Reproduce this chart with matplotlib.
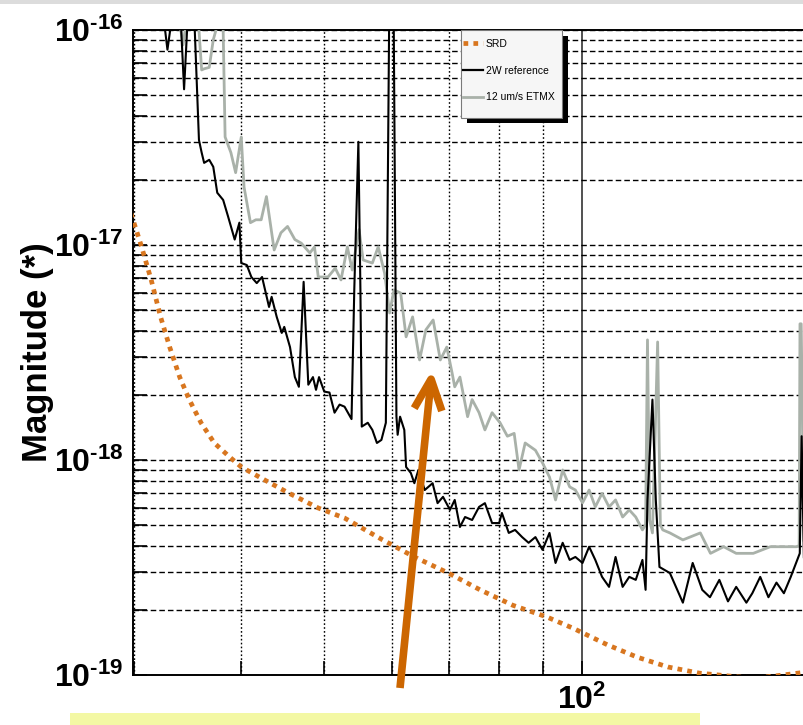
import numpy as np
import matplotlib
matplotlib.use("Agg")
import matplotlib.pyplot as plt
from matplotlib.patches import Rectangle, FancyArrowPatch
from matplotlib.lines import Line2D
from matplotlib.ticker import LogLocator, NullFormatter

plt.rcParams['font.family'] = ['Liberation Sans', 'DejaVu Sans']
plt.rcParams['mathtext.fontset'] = 'custom'
plt.rcParams['mathtext.rm'] = 'Liberation Sans:bold'
plt.rcParams['mathtext.it'] = 'Liberation Sans:bold'
plt.rcParams['mathtext.bf'] = 'Liberation Sans:bold'

# SRD design curve
srd_f = [29, 29.9, 30.6, 31.4, 32.2, 33.0, 33.9, 34.8, 35.9, 37.2, 38.8, 40.0,
         42.6, 45.5, 49.2, 52.8, 58.5, 63.7, 69.8, 76.0, 83.0, 91.0, 97.6,
         107.1, 116.0, 125.9, 137.1, 144.4, 152, 160, 168, 175, 182, 190, 200]
srd_m = [1.9e-17, 1.31e-17, 9.8e-18, 6.88e-18, 4.63e-18, 3.35e-18, 2.43e-18,
         1.90e-18, 1.49e-18, 1.20e-18, 1.03e-18, 9.28e-19, 8.07e-19, 7.0e-19,
         5.98e-19, 5.37e-19, 4.25e-19, 3.54e-19, 2.98e-19, 2.49e-19, 2.11e-19,
         1.86e-19, 1.65e-19, 1.38e-19, 1.21e-19, 1.09e-19, 1.02e-19, 1.0e-19,
         9.8e-20, 9.7e-20, 9.9e-20, 1.01e-19, 1.03e-19, 1.06e-19, 1.1e-19]

# 2W reference
ref_f = [30, 31.5, 32.5, 32.8, 33.1, 33.6, 34.0, 34.3, 34.6, 35.0, 35.3, 35.7,
         35.96, 36.2, 36.7, 37.1, 37.5, 38.1, 38.6, 39.3, 39.8, 40.0, 40.6, 41.1,
         41.7, 42.3, 43.1, 43.4, 44.0, 44.6, 44.9, 45.6, 46.2, 46.7, 47.3, 47.9,
         48.5, 48.9, 49.3, 50.0, 50.7, 51.4, 52.1, 52.8, 53.8, 54.2, 54.8, 55.1,
         55.3, 56.2, 56.9, 57.6, 58.3, 59.0, 59.6, 60.2, 60.7, 60.9, 61.3, 62.0,
         62.3, 63.1, 63.7, 64.4, 65.5, 66.9, 67.8, 68.8, 70.1, 71.0, 72.0, 73.0,
         74.4, 75.8, 77.0, 78.5, 80.0, 80.6, 82.1, 83.5, 85.1, 86.6, 88.2, 89.9,
         91.6, 93.1, 94.9, 96.7, 98.2, 100.1, 101.9, 103.6, 105.5, 107.5, 109.4,
         111.5, 113.5, 115.5, 117.6, 118.6, 119.2, 120.8, 121.9, 123.1, 126.6,
         131.1, 134.6, 138.1, 141.0, 144.6, 148.0, 151.3, 155.5, 158.0, 161.4,
         165.0, 168.6, 172.0, 175.2, 179.5, 180.4, 181.5, 190, 200]
ref_m = [5e-16, 2.5e-16, 1.1e-16, 8.1e-17, 1.05e-16, 1.4e-16, 1.1e-16, 5.3e-17,
         1.05e-16, 1.5e-16, 1.0e-16, 3.08e-17, 2.69e-17, 2.41e-17, 2.49e-17,
         2.31e-17, 1.75e-17, 1.62e-17, 1.36e-17, 1.06e-17, 1.27e-17, 8.24e-18,
         8.07e-18, 7.1e-18, 6.65e-18, 7.1e-18, 5.15e-18, 5.74e-18, 4.63e-18,
         3.9e-18, 4.16e-18, 3.35e-18, 2.43e-18, 2.19e-18, 6.74e-18, 2.24e-18,
         2.43e-18, 2.12e-18, 2.43e-18, 2.08e-18, 2.06e-18, 1.66e-18, 1.81e-18,
         1.77e-18, 1.55e-18, 6.2e-18, 3.02e-17, 6.2e-18, 1.43e-18, 1.49e-18,
         1.38e-18, 1.20e-18, 1.24e-18, 1.49e-18, 2e-16, 2e-16, 1.6e-18, 1.31e-18,
         1.59e-18, 1.38e-18, 9.28e-19, 8.7e-19, 7.8e-19, 8.99e-19, 7.25e-19,
         7.8e-19, 6.3e-19, 6.74e-19, 5.86e-19, 6.52e-19, 4.88e-19, 5.43e-19,
         5.26e-19, 6.05e-19, 6.3e-19, 5.09e-19, 5.09e-19, 5.67e-19, 4.58e-19,
         4.73e-19, 4.38e-19, 4.12e-19, 4.38e-19, 3.82e-19, 4.58e-19, 3.32e-19,
         4.12e-19, 3.43e-19, 3.54e-19, 3.32e-19, 3.95e-19, 3.43e-19, 2.86e-19,
         2.57e-19, 3.54e-19, 2.57e-19, 2.86e-19, 2.77e-19, 3.43e-19, 2.49e-19,
         6.52e-19, 1.91e-18, 6.52e-19, 3.18e-19, 2.98e-19, 2.17e-19, 3.32e-19,
         2.49e-19, 2.3e-19, 2.77e-19, 2.2e-19, 2.57e-19, 2.17e-19, 2.4e-19,
         2.86e-19, 2.3e-19, 2.69e-19, 2.4e-19, 2.86e-19, 3.68e-19, 1.29e-18,
         3.5e-19, 2.8e-19, 2.7e-19]

# 12 um/s ETMX
etmx_f = [30, 32, 33.5, 34.0, 34.2, 34.4, 35.0, 35.7, 35.96, 36.2, 36.7, 37.1,
          37.5, 37.8, 38.1, 38.3, 38.9, 39.4, 40.0, 40.3, 41.0, 41.6, 42.2, 42.8,
          43.7, 44.5, 45.3, 46.2, 47.0, 48.1, 48.7, 49.2, 50.5, 51.5, 52.3, 53.2,
          53.9, 54.9, 55.5, 56.9, 57.8, 58.8, 59.6, 60.3, 61.4, 62.3, 63.4, 64.6,
          65.7, 67.0, 68.3, 69.5, 70.5, 71.0, 72.0, 73.5, 74.4, 75.8, 77.0, 78.5,
          80.2, 81.8, 83.3, 84.4, 85.8, 88.2, 89.9, 91.6, 93.1, 94.9, 96.7, 98.2,
          100.1, 101.9, 103.6, 105.5, 107.5, 109.4, 111.5, 113.5, 115.5, 117.6,
          118.6, 119.2, 119.9, 120.8, 122.5, 123.4, 124.2, 126.6, 131.1, 137.4,
          141.2, 146.3, 151.3, 158.4, 165.8, 171.1, 177.9, 179.2, 179.6, 180.2,
          181.5, 190, 200]
etmx_m = [8e-16, 3e-16, 1.5e-16, 1.0e-16, 8.52e-17, 1.0e-16, 1.3e-16, 1.0e-16,
          6.52e-17, 6.6e-17, 6.7e-17, 9.0e-17, 1.05e-16, 1.2e-16, 1.0e-16,
          3.18e-17, 2.69e-17, 2.17e-17, 3.18e-17, 1.86e-17, 1.27e-17, 1.31e-17,
          1.31e-17, 1.68e-17, 9.48e-18, 1.14e-17, 1.22e-17, 1.06e-17, 1.02e-17,
          9.18e-18, 9.8e-18, 7.1e-18, 7.1e-18, 7.8e-18, 6.88e-18, 9.8e-18,
          7.65e-18, 1.18e-17, 8.52e-18, 8.24e-18, 9.8e-18, 7.4e-18, 4.83e-18,
          6.18e-18, 5.98e-18, 3.74e-18, 4.63e-18, 2.92e-18, 4.03e-18, 4.48e-18,
          2.92e-18, 3.35e-18, 2.54e-18, 2.19e-18, 2.43e-18, 1.59e-18, 1.91e-18,
          1.66e-18, 1.38e-18, 1.66e-18, 1.49e-18, 1.29e-18, 1.33e-18, 8.99e-19,
          1.2e-18, 1.11e-18, 9.69e-19, 8.33e-19, 6.52e-19, 8.99e-19, 7.5e-19,
          7.25e-19, 6.32e-19, 7.25e-19, 6.05e-19, 7.0e-19, 6.05e-19, 6.52e-19,
          5.43e-19, 5.86e-19, 5.43e-19, 4.73e-19, 5.0e-19, 3.62e-18, 5.26e-19,
          4.58e-19, 3.54e-18, 4.99e-19, 4.73e-19, 4.58e-19, 4.25e-19, 4.58e-19,
          3.68e-19, 3.95e-19, 3.68e-19, 3.68e-19, 3.95e-19, 3.95e-19, 3.95e-19,
          4.0e-19, 4.3e-18, 4.3e-18, 4.2e-19, 4.0e-19, 4.0e-19]

ytick_vals = [1e-19, 1e-18, 1e-17, 1e-16]
ytick_labels = [r'$10^{\text{-}19}$', r'$10^{\text{-}18}$',
                r'$10^{\text{-}17}$', r'$10^{\text{-}16}$']
legend_labels = ['SRD', '2W reference', '12 um/s ETMX']

W, H = 804, 725
fig = plt.figure(figsize=(W / 100, H / 100), dpi=100)
ax = fig.add_axes([133 / W, 1 - 675 / H, (840 - 133) / W, (675 - 30) / H])

c_srd = '#d8761f'
c_etmx = '#a9b1a9'

ax.plot(etmx_f, etmx_m, color=c_etmx, lw=2.0, zorder=3)
ax.plot(ref_f, ref_m, color='black', lw=1.5, zorder=4)
ax.plot(srd_f, srd_m, color=c_srd, lw=3.4, linestyle=(0, (1, 1.1)),
        dash_capstyle='butt', zorder=5)

ax.set_xscale('log')
ax.set_yscale('log')
ax.set_xlim(29.9, 200)
ax.set_ylim(1e-19, 1e-16)

ax.set_xticks([100])
ax.set_xticklabels(['$10^{2}$'])
ax.xaxis.set_minor_locator(LogLocator(base=10, subs=np.arange(2, 10)))
ax.xaxis.set_minor_formatter(NullFormatter())
ax.set_yticks(ytick_vals)
ax.set_yticklabels(ytick_labels)
ax.yaxis.set_minor_locator(LogLocator(base=10, subs=np.arange(2, 10)))
ax.yaxis.set_minor_formatter(NullFormatter())

ax.tick_params(which='both', direction='in', length=10, width=1.2, color='black')
ax.tick_params(axis='both', which='major', labelsize=23, pad=7)
ax.tick_params(axis='y', which='major', pad=7)

# grid
ax.grid(axis='y', which='both', color='black', lw=1.0, linestyle=(0, (4, 2.2)))
ax.grid(axis='x', which='minor', color='black', lw=1.0, linestyle=(0, (1.2, 1.6)))
ax.grid(axis='x', which='major', color='#222222', lw=1.1, linestyle='-')
ax.set_axisbelow(True)

for side in ['left', 'top', 'bottom']:
    ax.spines[side].set_linewidth(1.4)
ax.spines['right'].set_visible(False)

ax.set_ylabel('Magnitude (*)', fontsize=25, fontweight='bold')
ax.yaxis.set_label_coords((54 - 133) / 707, 0.5)

# legend box with black shadow
fig.add_artist(Rectangle((467 / W, 1 - 123 / H), 101 / W, 87 / H,
                         transform=fig.transFigure, facecolor='black',
                         edgecolor='none', zorder=8))
fig.add_artist(Rectangle((461 / W, 1 - 118 / H), 101 / W, 88 / H,
                         transform=fig.transFigure, facecolor='#f6f6f6',
                         edgecolor='#7a7a7a', lw=0.8, zorder=9))
handles = [Line2D([], [], color=c_srd, lw=3.4, linestyle=(0, (1, 1.1)),
                  dash_capstyle='butt'),
           Line2D([], [], color='black', lw=1.6),
           Line2D([], [], color=c_etmx, lw=2.0)]
leg = fig.legend(handles, legend_labels, loc='upper left',
                 bbox_to_anchor=(463 / W, 1 - 39 / H), frameon=False,
                 fontsize=7.5, handlelength=1.9, handletextpad=0.3,
                 labelspacing=1.6, borderpad=0, borderaxespad=0)
leg.set_zorder(10)

# orange arrow
fig.add_artist(FancyArrowPatch((400 / W, 1 - 688 / H), (432 / W, 1 - 370 / H),
                               transform=fig.transFigure,
                               arrowstyle='->,head_length=2.2,head_width=1.0',
                               mutation_scale=10, color='#cc6600', lw=5.5,
                               shrinkA=0, shrinkB=0, capstyle='butt',
                               joinstyle='round', zorder=11))

# yellow strip at bottom and grey strip at top
fig.add_artist(Rectangle((70 / W, 0), 630 / W, 12 / H, transform=fig.transFigure,
                         facecolor='#f3f8a4', edgecolor='none', zorder=1))
fig.add_artist(Rectangle((0, 1 - 4 / H), 1, 4 / H, transform=fig.transFigure,
                         facecolor='#dcdcdc', edgecolor='none', zorder=1))

fig.savefig('out.png', dpi=100)
